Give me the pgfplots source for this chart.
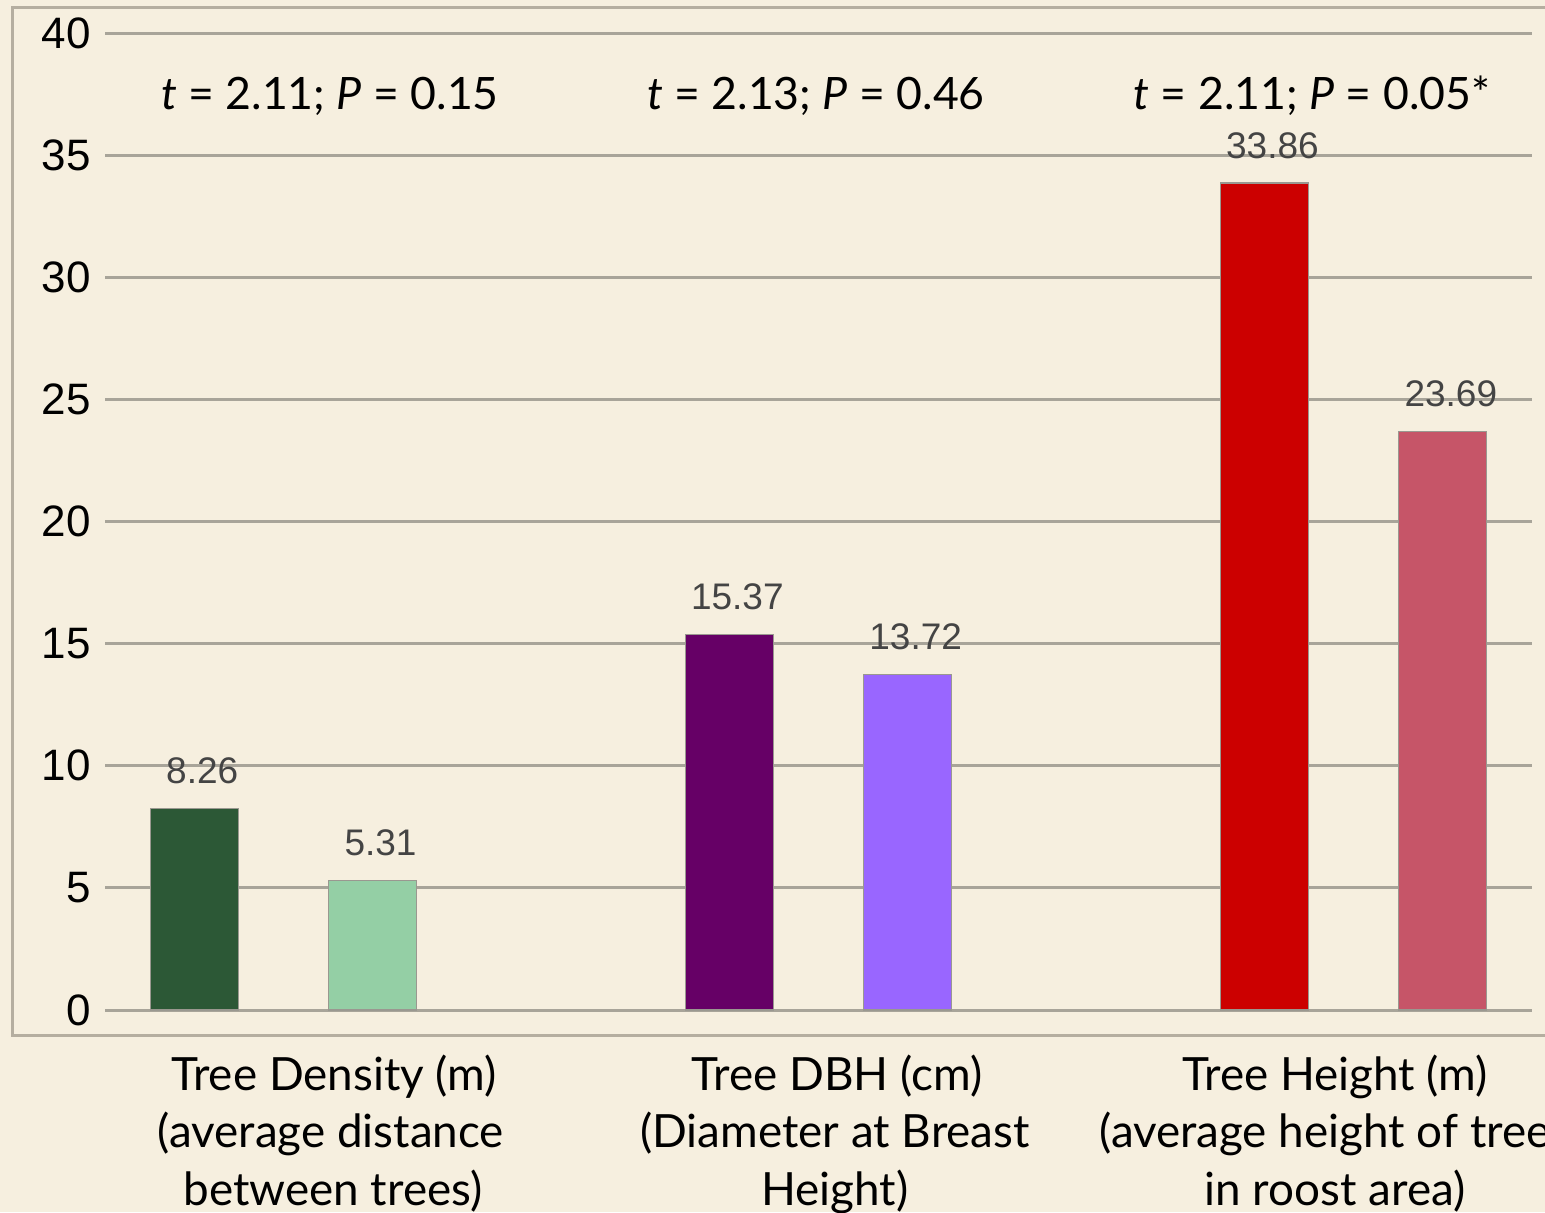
\documentclass[border=0pt]{standalone}
\usepackage{fontspec}
\setmainfont{Lato}
\newfontfamily\arial{Liberation Sans}
\usepackage{pgfplots}
\pgfplotsset{compat=1.18}
\definecolor{bg}{HTML}{F6EFDF}
\definecolor{framec}{HTML}{B5AEA0}
\definecolor{gridc}{HTML}{A8A499}
\definecolor{edgec}{HTML}{9A9890}
\definecolor{labc}{HTML}{444444}
\definecolor{cA}{HTML}{2C5836}
\definecolor{cB}{HTML}{94CFA5}
\definecolor{cC}{HTML}{660066}
\definecolor{cD}{HTML}{9966FF}
\definecolor{cE}{HTML}{CC0000}
\definecolor{cF}{HTML}{C65568}
\begin{document}
\begin{tikzpicture}[x=0.5pt,y=0.5pt]
\path[use as bounding box, fill=bg] (0,0) rectangle (1545,1212);
\draw[framec, line width=1.5pt] (12,177) rectangle (1600,1204);
\begin{axis}[at={(52.5pt,101pt)}, anchor=south west, scale only axis,
  width=713.5pt, height=488.5pt,
  xmin=-0.5, xmax=7.5, ymin=0, ymax=40,
  ytick={0,5,...,40}, xtick=\empty,
  ymajorgrids, grid style={gridc, line width=1.5pt},
  major tick length=0pt, axis line style={draw=none},
  yticklabel style={font=\arial\fontsize{22}{26}\selectfont, text=black, xshift=-3.5pt},
  /pgf/number format/assume math mode=true,
  clip=false, ybar, bar width=44pt,
  point meta=explicit symbolic,
  nodes near coords,
  nodes near coords style={font=\arial\fontsize{18.5}{22}\selectfont, text=labc, inner sep=0pt, yshift=12pt, xshift=4pt},
  every axis plot/.append style={bar shift=0pt, draw=edgec, line width=0.6pt},
]
\addplot[fill=cA] coordinates {(0,8.26) [8.26]};
\addplot[fill=cB] coordinates {(1,5.31) [5.31]};
\addplot[fill=cC] coordinates {(3,15.37) [15.37]};
\addplot[fill=cD] coordinates {(4,13.72) [13.72]};
\addplot[fill=cE] coordinates {(6,33.86) [33.86]};
\addplot[fill=cF] coordinates {(7,23.69) [23.69]};
\end{axis}
\begin{scope}[every node/.style={anchor=base, inner sep=0pt, font=\fontsize{22.3}{26}\selectfont}]
\node at (330,1102) {\textit{t} = 2.11; \textit{P} = 0.15};
\node at (816,1102) {\textit{t} = 2.13; \textit{P} = 0.46};
\node at (1312,1102) {\textit{t} = 2.11; \textit{P} = 0.05*};
\end{scope}
\begin{scope}[every node/.style={anchor=base, inner sep=0pt, font=\fontsize{22.9}{27}\selectfont}]
\node at (334,122) {Tree Density (m)};
\node at (331,65) {(average distance};
\node at (333,7) {between trees)};
\node at (837,122) {Tree DBH (cm)};
\node at (835,65) {(Diameter at Breast};
\node at (835,7) {Height)};
\node at (1335,122) {Tree Height (m)};
\node at (1335,65) {(average height of trees};
\node at (1335,7) {in roost area)};
\end{scope}
\end{tikzpicture}
\end{document}
